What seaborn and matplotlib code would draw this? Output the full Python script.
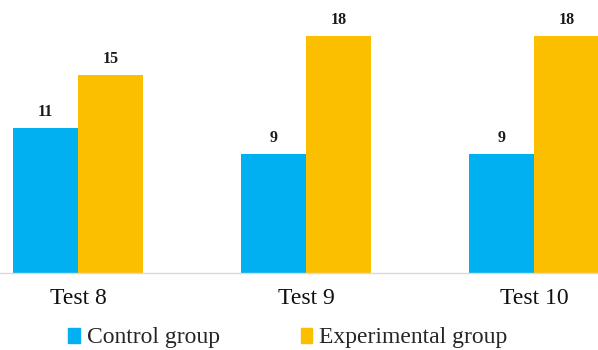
import matplotlib
matplotlib.use('Agg')

import matplotlib.pyplot as plt
import pandas as pd
import seaborn as sns

tests = ['Test 8', 'Test 9', 'Test 10']
control = [11, 9, 9]
experimental = [15, 18, 18]
groups = ['Control group', 'Experimental group']
colors = ['#00B0F0', '#FCBF00']

df = pd.DataFrame({
    'test': tests * 2,
    'group': [groups[0]] * 3 + [groups[1]] * 3,
    'value': control + experimental,
})

sns.set_style('white')
plt.rcParams['font.family'] = ['Liberation Serif', 'DejaVu Serif']

fig = plt.figure(figsize=(5.98, 3.5), dpi=100)
ax = fig.add_axes([0, 77 / 350, 1, 273 / 350])

sns.barplot(data=df, x='test', y='value', hue='group', palette=colors,
            width=0.57, gap=0, saturation=1, linewidth=0, ax=ax, legend=False)

for cont in ax.containers:
    ax.bar_label(cont, fmt='%d', padding=6, fontsize=11.5, fontweight='bold', color='#1a1a1a')

ax.set_xlim(-78 / 228, 2 + 64 / 228)
ax.set_ylim(0, 273 / 13.17)
ax.set_xlabel('')
ax.set_ylabel('')
ax.set_yticks([])
ax.tick_params(axis='x', length=0, pad=11, labelsize=17, colors='#111111')
for side in ['top', 'left', 'right']:
    ax.spines[side].set_visible(False)
ax.spines['bottom'].set_color('#D9D9D9')
ax.spines['bottom'].set_linewidth(1.0)

handles = [plt.Rectangle((0, 0), 1, 1, color=c) for c in colors]
fig.legend(handles, groups, loc='center', bbox_to_anchor=(288 / 598, 12 / 350),
           ncol=2, frameon=False, fontsize=17, handlelength=0.5, handleheight=0.6,
           handletextpad=0.3, columnspacing=3.4, borderaxespad=0)

plt.savefig('out.png', dpi=100)
plt.close()
